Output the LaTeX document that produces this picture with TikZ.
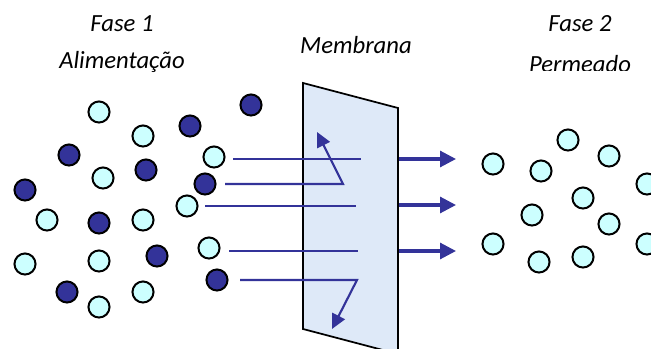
\documentclass[tikz,border=0pt]{standalone}
\usepackage{fontspec}
\setmainfont{Carlito}
\usetikzlibrary{arrows.meta}
\definecolor{ink}{HTML}{333399}
\definecolor{pale}{HTML}{CCFFFF}
\definecolor{memb}{RGB}{222,233,248}

\begin{document}
\begin{tikzpicture}[x=0.75pt, y=-0.75pt,
  every node/.style={font=\itshape\fontsize{18.5}{20}\selectfont},
  mol/.style={draw=black, circle, line width=1.5pt, minimum size=15.8pt, inner sep=0pt},
  light/.style={mol, fill=pale},
  dark/.style={mol, fill=ink},
  flux/.style={ink, line width=1.6pt},
  bounce/.style={flux, -{Triangle[length=11pt,width=10.5pt]}},
  passed/.style={ink, line width=2.3pt, -{Triangle[length=12pt,width=12pt]}}]
\useasboundingbox (0,0) rectangle (651,349);
\clip (0,0) rectangle (651,349);

% titles
\node (f1) at (122,24) {Fase 1};
\node (ali) at (122,62) {Alimentação};
\node (mem) at (356,45) {Membrana};
\node (f2) at (580,24) {Fase 2};
\begin{scope}
  \clip (480,50) rectangle (680,71);
  \node (per) at (580,64) {Permeado};
\end{scope}

% membrane
\coordinate (m1) at (303,83);
\coordinate (m2) at (398,108);
\coordinate (m3) at (398,354);
\coordinate (m4) at (303,329);
\draw[fill=memb, line width=1.3pt] (m1) -- (m2) -- (m3) -- (m4) -- cycle;

% feed side
\foreach \x/\y [count=\i] in {99/112,143/136,214/157,103/178,187/206,47/220,143/220,
    209/248,25/264,99/261,143/292,99/307}
  \node[light] (l\i) at (\x,\y) {};
\foreach \x/\y [count=\i] in {251/105,190/126,69/155,146/170,205/184,25/190,99/223,
    157/256,217/280,67/292}
  \node[dark] (d\i) at (\x,\y) {};

% permeate side
\foreach \x/\y [count=\i] in {493/164,568/140,541/171,609/156,647/184,583/198,
    532/215,609/224,493/244,647/244,539/262,583/257}
  \node[light] (p\i) at (\x,\y) {};

% paths through the membrane
\coordinate (a1) at (233,159); \coordinate (b1) at (361,159);
\coordinate (a2) at (225,184); \coordinate (b2) at (343,184); \coordinate (c2) at (317,132);
\coordinate (a3) at (205,206); \coordinate (b3) at (356,206);
\coordinate (a4) at (229,251); \coordinate (b4) at (358,251);
\coordinate (a5) at (240,280); \coordinate (b5) at (357,280); \coordinate (c5) at (332,329);
\draw[flux] (a1) -- (b1);
\draw[bounce] (a2) -- (b2) -- (c2);
\draw[flux] (a3) -- (b3);
\draw[flux] (a4) -- (b4);
\draw[bounce] (a5) -- (b5) -- (c5);

\foreach \y [count=\i] in {159,205,251} {
  \coordinate (s\i) at (399,\y);
  \coordinate (t\i) at (456,\y);
  \draw[passed] (s\i) -- (t\i);
}
\end{tikzpicture}
\end{document}
